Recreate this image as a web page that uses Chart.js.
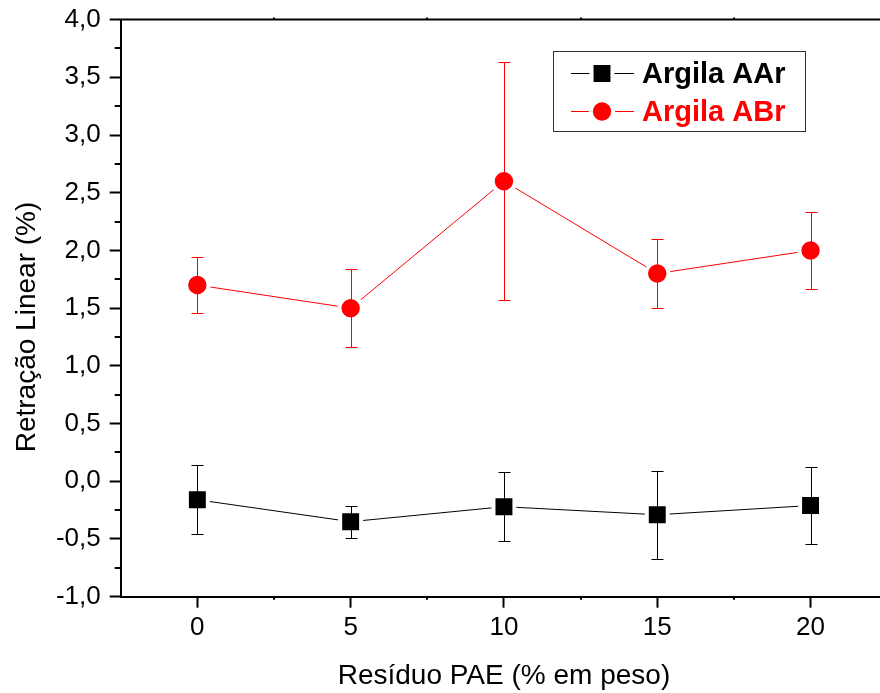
<!DOCTYPE html>
<html>
<head>
<meta charset="utf-8">
<script src="https://cdn.jsdelivr.net/npm/chart.js@4/dist/chart.umd.min.js"></script>
<style>
  html, body { margin: 0; padding: 0; background: #fff; width: 880px; height: 693px; overflow: hidden; }
  #wrap { width: 906px; height: 693px; }
  #chart { width: 906px; height: 693px; }
</style>
</head>
<body>
<div id="wrap"><canvas id="chart" width="906" height="693"></canvas></div>
<script>
    // data
    const xValues = [0, 5, 10, 15, 20];
    const aarValues = [-0.16, -0.35, -0.22, -0.29, -0.21];
    const aarErrors = [0.30, 0.14, 0.30, 0.38, 0.33];
    const abrValues = [1.70, 1.50, 2.60, 1.80, 2.00];
    const abrErrors = [0.24, 0.34, 1.03, 0.30, 0.33];

    const xTicks = [0, 5, 10, 15, 20];
    const xMinorTicks = [2.5, 7.5, 12.5, 17.5];
    const yTicks = [-1, -0.5, 0, 0.5, 1, 1.5, 2, 2.5, 3, 3.5, 4];
    const yTickLabels = ['-1,0', '-0,5', '0,0', '0,5', '1,0', '1,5', '2,0', '2,5', '3,0', '3,5', '4,0'];
    const yMinorTicks = [-0.75, -0.25, 0.25, 0.75, 1.25, 1.75, 2.25, 2.75, 3.25, 3.75];

    const seriesNames = ['Argila AAr', 'Argila ABr'];
    const xTitle = 'Resíduo PAE (% em peso)';
    const yTitle = 'Retração Linear (%)';

    const FONT = '"Liberation Sans", Arial, sans-serif';
    Chart.defaults.font.family = FONT;
    Chart.defaults.color = '#000';

    function toPoints(values) {
        return xValues.map((x, i) => ({ x: x, y: values[i] }));
    }

    const errorBars = {
        id: 'errorBars',
        afterDatasetsDraw(chart) {
            const ctx = chart.ctx;
            const y = chart.scales.y;
            chart.data.datasets.forEach((ds, di) => {
                const meta = chart.getDatasetMeta(di);
                ctx.save();
                ctx.strokeStyle = ds.borderColor;
                ctx.lineWidth = 1;
                meta.data.forEach((pt, i) => {
                    const v = ds.data[i].y, e = ds.errors[i];
                    const top = Math.round(y.getPixelForValue(v + e)) + 0.5;
                    const bot = Math.round(y.getPixelForValue(v - e)) + 0.5;
                    const px = Math.round(pt.x) + 0.5;
                    ctx.beginPath();
                    ctx.moveTo(px, top); ctx.lineTo(px, bot);
                    ctx.moveTo(px - 6, top); ctx.lineTo(px + 6, top);
                    ctx.moveTo(px - 6, bot); ctx.lineTo(px + 6, bot);
                    ctx.stroke();
                });
                ctx.restore();
            });
        }
    };

    const frame = {
        id: 'frame',
        afterDraw(chart) {
            const ctx = chart.ctx;
            const a = chart.chartArea;
            const sx = chart.scales.x, sy = chart.scales.y;
            ctx.save();
            ctx.strokeStyle = '#000';
            ctx.lineWidth = 2;
            ctx.beginPath();
            ctx.moveTo(a.left - 1, a.top); ctx.lineTo(a.right + 1, a.top);
            ctx.lineTo(a.right, a.bottom);
            ctx.stroke();
            // minor ticks
            ctx.beginPath();
            yMinorTicks.forEach(v => {
                const py = Math.round(sy.getPixelForValue(v));
                ctx.moveTo(a.left, py); ctx.lineTo(a.left - 6, py);
            });
            xMinorTicks.forEach(v => {
                const px = Math.round(sx.getPixelForValue(v));
                ctx.moveTo(px, a.bottom); ctx.lineTo(px, a.bottom + 3);
                ctx.moveTo(px, a.top); ctx.lineTo(px, a.top - 2);
            });
            ctx.stroke();

            // axis titles
            ctx.fillStyle = '#000';
            ctx.font = '28px ' + FONT;
            ctx.textAlign = 'center';
            ctx.textBaseline = 'middle';
            ctx.fillText(xTitle, sx.getPixelForValue(10), 676);
            ctx.save();
            ctx.translate(27, 327);
            ctx.rotate(-Math.PI / 2);
            ctx.fillText(yTitle, 0, 0);
            ctx.restore();

            // legend box
            ctx.lineWidth = 1;
            ctx.strokeStyle = '#333';
            ctx.strokeRect(553.5, 51.5, 252, 80);
            const rows = [73, 111];
            chart.data.datasets.forEach((ds, i) => {
                const ry = rows[i] + 0.5;
                ctx.strokeStyle = ds.borderColor;
                ctx.lineWidth = 1;
                ctx.beginPath();
                ctx.moveTo(571, ry); ctx.lineTo(634, ry);
                ctx.stroke();
                ctx.fillStyle = ds.pointBackgroundColor;
                ctx.strokeStyle = '#fff';
                ctx.lineWidth = ds.pointBorderWidth;
                ctx.beginPath();
                if (ds.pointStyle === 'rect') {
                    const s = Math.SQRT1_2 * ds.pointRadius;
                    ctx.rect(602 - s, ry - s, 2 * s, 2 * s);
                } else {
                    ctx.arc(602, ry, ds.pointRadius, 0, Math.PI * 2);
                }
                ctx.fill();
                ctx.stroke();
                ctx.fillStyle = ds.borderColor;
                ctx.font = 'bold 29px ' + FONT;
                ctx.textAlign = 'left';
                ctx.fillText(ds.label, 642, ry + 1);
            });
            ctx.restore();
        }
    };

    new Chart(document.getElementById('chart'), {
        type: 'line',
        data: {
            datasets: [{
                label: seriesNames[0],
                data: toPoints(aarValues),
                errors: aarErrors,
                borderColor: '#000',
                backgroundColor: '#000',
                borderWidth: 1,
                pointStyle: 'rect',
                pointRadius: 14.8,
                pointBackgroundColor: '#000',
                pointBorderColor: '#fff',
                pointBorderWidth: 4
            }, {
                label: seriesNames[1],
                data: toPoints(abrValues),
                errors: abrErrors,
                borderColor: '#ff0000',
                backgroundColor: '#ff0000',
                borderWidth: 1,
                pointStyle: 'circle',
                pointRadius: 11.2,
                pointBackgroundColor: '#ff0000',
                pointBorderColor: '#fff',
                pointBorderWidth: 4
            }]
        },
        options: {
            responsive: false,
            animation: false,
            layout: { padding: { top: 19.6, right: 8.2, left: 0, bottom: 0 } },
            plugins: {
                legend: { display: false },
                tooltip: { enabled: false }
            },
            scales: {
                x: {
                    type: 'linear',
                    min: -2.5,
                    max: 22.5,
                    afterBuildTicks: s => { s.ticks = xTicks.map(v => ({ value: v })); },
                    afterFit: s => { s.height = 96.3; s.paddingLeft = 0; s.paddingRight = 0; },
                    grid: { drawOnChartArea: false, tickLength: 11, tickWidth: 2, tickColor: '#000' },
                    border: { color: '#000', width: 2 },
                    ticks: { font: { size: 26 }, padding: 5, maxRotation: 0 }
                },
                y: {
                    min: -1,
                    max: 4,
                    afterBuildTicks: s => { s.ticks = yTicks.map(v => ({ value: v })); },
                    afterFit: s => { s.width = 120.7; s.paddingTop = 0; s.paddingBottom = 0; },
                    grid: { drawOnChartArea: false, tickLength: 11, tickWidth: 2, tickColor: '#000' },
                    border: { color: '#000', width: 2 },
                    ticks: {
                        font: { size: 26 },
                        padding: 9,
                        callback: (v, i) => yTickLabels[i]
                    }
                }
            }
        },
        plugins: [errorBars, frame]
    });
</script>
</body>
</html>
